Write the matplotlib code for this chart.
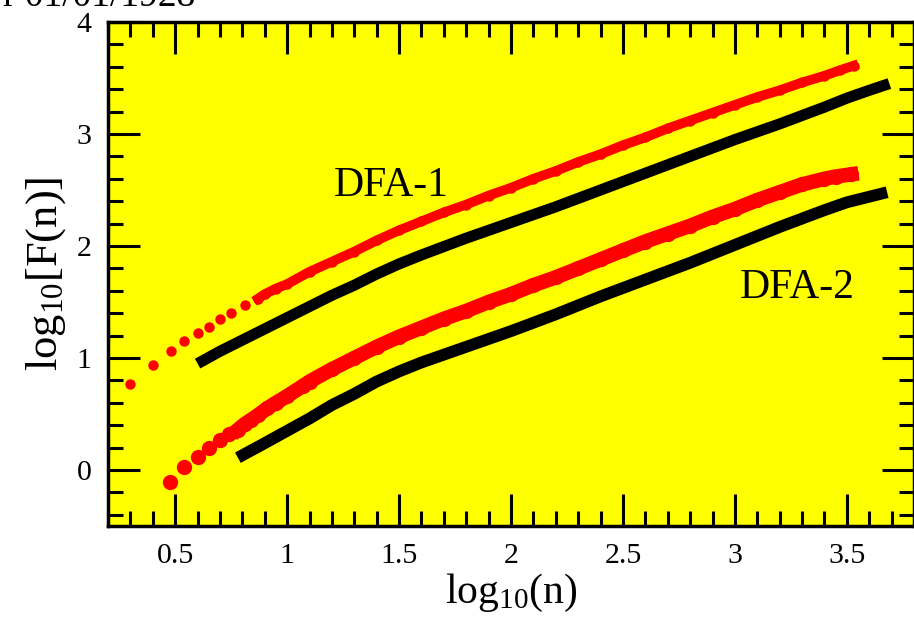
import numpy as np
import matplotlib.pyplot as plt
from matplotlib.ticker import MultipleLocator

plt.rcParams['font.family'] = ['Liberation Serif', 'DejaVu Serif']
plt.rcParams['mathtext.fontset'] = 'custom'
plt.rcParams['mathtext.rm'] = 'Liberation Serif'
plt.rcParams['mathtext.it'] = 'Liberation Serif:italic'

# DFA-1, data (red) and surrogate (black)
dfa1_x = [0.30, 0.40, 0.48, 0.54, 0.60, 0.65, 0.70, 0.75, 0.81, 0.87, 0.90, 0.95,
          1.00, 1.10, 1.20, 1.30, 1.40, 1.50, 1.60, 1.70, 1.80, 1.90, 2.00, 2.10,
          2.20, 2.30, 2.40, 2.50, 2.60, 2.70, 2.80, 2.90, 3.00, 3.10, 3.20, 3.30,
          3.40, 3.47, 3.53]
dfa1_y = [0.77, 0.94, 1.06, 1.15, 1.22, 1.28, 1.35, 1.40, 1.47, 1.53, 1.57, 1.62,
          1.66, 1.77, 1.86, 1.95, 2.05, 2.14, 2.22, 2.30, 2.37, 2.45, 2.52, 2.60,
          2.67, 2.75, 2.82, 2.90, 2.97, 3.05, 3.12, 3.19, 3.26, 3.33, 3.39, 3.46,
          3.52, 3.57, 3.61]
dfa1_sur_x = [0.60, 0.70, 0.80, 0.90, 1.00, 1.10, 1.20, 1.30, 1.40, 1.50, 1.60,
              1.80, 2.00, 2.20, 2.40, 2.60, 2.80, 3.00, 3.20, 3.40, 3.50, 3.60, 3.69]
dfa1_sur_y = [0.95, 1.06, 1.16, 1.26, 1.36, 1.46, 1.56, 1.65, 1.75, 1.84, 1.92,
              2.07, 2.21, 2.35, 2.50, 2.65, 2.80, 2.95, 3.09, 3.24, 3.32, 3.39, 3.45]

# DFA-2, data (red) and surrogate (black)
dfa2_x = [0.475, 0.54, 0.60, 0.65, 0.70, 0.74, 0.78, 0.81, 0.84, 0.87, 0.91, 0.95,
          1.00, 1.07, 1.10, 1.20, 1.30, 1.40, 1.50, 1.60, 1.70, 1.80, 1.90, 2.00,
          2.10, 2.20, 2.30, 2.40, 2.50, 2.60, 2.70, 2.80, 2.90, 3.00, 3.10, 3.20,
          3.30, 3.40, 3.45, 3.52]
dfa2_y = [-0.11, 0.03, 0.12, 0.20, 0.27, 0.32, 0.36, 0.41, 0.45, 0.49, 0.55, 0.60,
          0.66, 0.75, 0.79, 0.90, 1.00, 1.10, 1.19, 1.27, 1.35, 1.42, 1.50, 1.57,
          1.65, 1.72, 1.80, 1.88, 1.96, 2.04, 2.11, 2.18, 2.26, 2.33, 2.41, 2.48,
          2.55, 2.60, 2.62, 2.64]
dfa2_sur_x = [0.78, 0.90, 1.00, 1.10, 1.20, 1.30, 1.40, 1.50, 1.60, 1.80, 2.00,
              2.20, 2.40, 2.60, 2.80, 3.00, 3.20, 3.40, 3.50, 3.60, 3.68]
dfa2_sur_y = [0.11, 0.24, 0.35, 0.46, 0.58, 0.68, 0.79, 0.88, 0.96, 1.10, 1.24,
              1.39, 1.55, 1.70, 1.85, 2.01, 2.17, 2.32, 2.39, 2.44, 2.48]

fig = plt.figure(figsize=(9.14, 6.25), dpi=100)
ax = fig.add_axes([0.1182, 0.1584, 0.8818, 0.8064])
ax.set_facecolor('#ffff00')

# black surrogate curves
ax.plot(dfa1_sur_x, dfa1_sur_y, color='black', lw=8, solid_capstyle='butt')
ax.plot(dfa2_sur_x, dfa2_sur_y, color='black', lw=8.5, solid_capstyle='butt')

# red data points, joined where they are dense
x1, y1 = np.array(dfa1_x), np.array(dfa1_y)
m1 = x1 >= 0.87
ax.plot(x1[m1], y1[m1], color='red', lw=7)
ax.plot(x1, y1, 'o', color='red', ms=7.5, mec='none')

x2, y2 = np.array(dfa2_x), np.array(dfa2_y)
m2 = x2 >= 0.78
ax.plot(x2[m2], y2[m2], color='red', lw=10.5)
ax.plot(x2, y2, 'o', color='red', ms=11, mec='none')

ax.text(1.207, 2.45, 'DFA-1', fontsize=30, color='black')
ax.text(3.02, 1.54, 'DFA-2', fontsize=30, color='black')

ax.set_xlim(0.2, 3.8)
ax.set_ylim(-0.5, 4)
ax.set_xticks([0.5, 1, 1.5, 2, 2.5, 3, 3.5])
ax.set_xticklabels(['0.5', '1', '1.5', '2', '2.5', '3', '3.5'])
ax.set_yticks([0, 1, 2, 3, 4])
ax.xaxis.set_minor_locator(MultipleLocator(0.1))
ax.yaxis.set_minor_locator(MultipleLocator(0.2))
ax.tick_params(which='both', direction='in', top=True, right=True, width=2.2,
               labelsize=21.5, pad=12)
ax.tick_params(which='major', length=23)
ax.tick_params(which='minor', length=11)
for s in ax.spines.values():
    s.set_linewidth(2.5)

ax.set_xlabel(r'log$_{10}$(n)', fontsize=30, labelpad=2)
ax.set_ylabel(r'log$_{10}$[F(n)]', fontsize=32, labelpad=6)

fig.text(195 / 914, 1 - 6 / 625, 'r 01/01/1928', fontsize=27, ha='right',
         va='baseline')

fig.savefig('out.png', dpi=100)
